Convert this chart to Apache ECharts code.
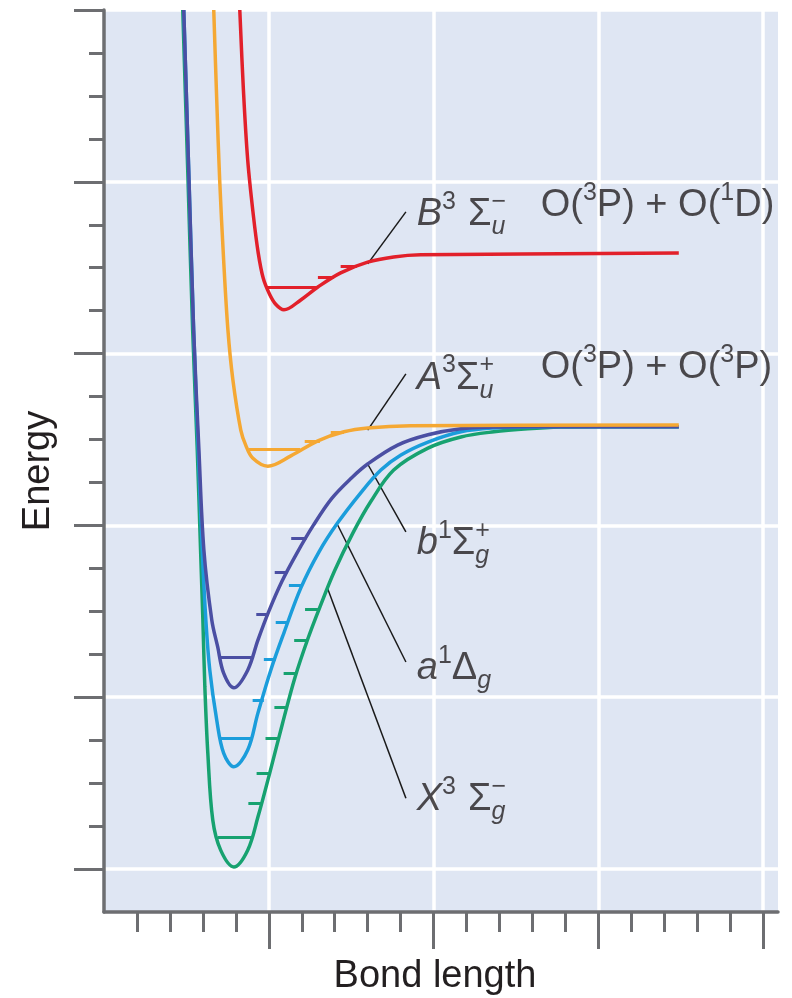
<!DOCTYPE html>
<html>
<head>
<meta charset="utf-8">
<script src="https://cdn.jsdelivr.net/npm/echarts@6.0.0/dist/echarts.min.js"></script>
<style>
  html, body { margin: 0; padding: 0; background: #fff; }
  #chart { width: 792px; height: 998px; }
</style>
</head>
<body>
<div id="chart"></div>
<script>
// potential energy curves of O2, [bond length, energy] in tick units
const curveX = [[2.39, 21.0], [2.54, 17.28], [2.69, 13.55], [2.83, 10.76], [2.93, 8.43], [3.00, 6.80], [3.06, 5.24], [3.15, 3.70], [3.30, 2.14], [3.54, 1.44], [3.94, 1.05], [4.36, 1.44], [4.67, 2.21], [5.03, 3.24], [5.42, 4.40], [5.79, 5.45], [6.18, 6.35], [6.55, 7.10], [7.00, 7.95], [7.55, 8.82], [8.09, 9.55], [8.79, 10.29], [9.83, 10.80], [10.83, 11.06], [11.83, 11.18], [12.86, 11.25], [13.86, 11.29], [15.08, 11.30], [17.44, 11.30]];
const curveA1 = [[2.42, 21.0], [2.57, 17.28], [2.72, 13.55], [2.86, 10.76], [2.98, 8.43], [3.09, 6.80], [3.21, 5.63], [3.42, 4.47], [3.63, 3.70], [3.94, 3.38], [4.36, 3.77], [4.67, 4.63], [5.06, 5.63], [5.46, 6.50], [5.97, 7.54], [6.52, 8.38], [7.09, 9.06], [7.79, 9.76], [8.40, 10.29], [9.01, 10.64], [9.83, 10.94], [10.83, 11.18], [11.83, 11.27], [12.86, 11.29], [13.86, 11.30], [17.44, 11.30]];
const curveB1 = [[2.42, 21.0], [2.57, 17.28], [2.72, 13.55], [2.88, 10.76], [3.03, 8.43], [3.27, 6.80], [3.45, 6.17], [3.63, 5.56], [3.94, 5.22], [4.36, 5.63], [4.67, 6.33], [5.00, 7.00], [5.40, 7.70], [5.85, 8.35], [6.35, 9.00], [6.90, 9.62], [7.50, 10.10], [8.00, 10.43], [8.91, 10.87], [9.83, 11.11], [10.83, 11.25], [11.83, 11.29], [12.86, 11.30], [17.44, 11.30]];
const curveA3 = [[3.33, 21.0], [3.42, 18.91], [3.51, 17.04], [3.63, 15.18], [3.76, 13.55], [3.91, 12.39], [4.15, 11.22], [4.30, 10.87], [4.51, 10.57], [4.97, 10.38], [5.67, 10.62], [6.49, 10.97], [7.28, 11.18], [8.00, 11.27], [9.31, 11.32], [17.44, 11.34]];
const curveB3 = [[4.12, 21.0], [4.23, 19.14], [4.36, 17.51], [4.53, 16.23], [4.68, 15.34], [4.83, 14.76], [5.02, 14.39], [5.21, 14.15], [5.46, 14.02], [5.97, 14.25], [6.49, 14.55], [7.18, 14.88], [8.00, 15.13], [8.79, 15.25], [9.61, 15.30], [17.44, 15.34]];

// vibrational levels: [energy, from, to]
const levelsX = [[1.75, 3.45, 4.46], [2.54, 4.38, 4.79], [3.24, 4.63, 5.03], [4.05, 4.90, 5.30], [4.77, 5.17, 5.55], [5.56, 5.45, 5.83], [6.33, 5.77, 6.17], [7.05, 6.10, 6.53]];
const levelsA1 = [[4.05, 3.53, 4.48], [4.94, 4.51, 4.85], [5.89, 4.85, 5.21], [6.75, 5.21, 5.58], [7.61, 5.61, 5.99]];
const levelsB1 = [[5.94, 3.52, 4.52], [6.94, 4.62, 4.99], [7.92, 5.18, 5.56], [8.71, 5.68, 6.14]];
const levelsA3 = [[10.78, 4.40, 5.95], [10.97, 6.09, 6.55], [11.18, 6.88, 7.28]];
const levelsB3 = [[14.55, 4.95, 6.45], [14.78, 6.49, 6.97], [15.04, 7.18, 7.67]];

// leader lines from curve to label
const leaders = [
  [[8.00, 15.09], [9.16, 16.30]],
  [[8.00, 11.22], [9.16, 12.53]],
  [[8.00, 10.43], [9.16, 8.85]],
  [[7.09, 9.01], [9.16, 5.82]],
  [[6.79, 7.52], [9.16, 2.65]]
];

// label anchors (left edge, middle) and rich text
const labelPoints = [[9.49, 16.23], [13.25, 16.44], [9.49, 12.43], [13.25, 12.67], [9.49, 8.57], [9.49, 5.66], [9.49, 2.61]];
const labelTexts = [
  '{it|B}{sup|3}{gap| }{rm|Σ}{sgn|−}{sub|u}',
  '{rm|O(}{sup|3}{rm|P) + O(}{sup|1}{rm|D)}',
  '{it|A}{sup|3}{rm|Σ}{sgn|+}{sub|u}',
  '{rm|O(}{sup|3}{rm|P) + O(}{sup|3}{rm|P)}',
  '{it|b}{sup|1}{rm|Σ}{sgn|+}{sub|g}',
  '{it|a}{sup|1}{rm|Δ}{sub|g}',
  '{it|X}{sup|3}{gap| }{rm|Σ}{sgn|−}{sub|g}'
];

// axis ticks
const xMinorTicks = [1, 2, 3, 4, 5, 6, 7, 8, 9, 10, 11, 12, 13, 14, 15, 16, 17, 18, 19, 20];
const xMajorTicks = [5, 10, 15, 20];
const yMinorTicks = [1, 2, 3, 4, 5, 6, 7, 8, 9, 10, 11, 12, 13, 14, 15, 16, 17, 18, 19, 20, 21];
const yMajorTicks = [1, 5, 9, 13, 17, 21];

const FONT = 'Liberation Sans';
const ink = '#231f20';
const grey = '#6d6e71';

const chart = echarts.init(document.getElementById('chart'));

function levelLines(levels) {
  return levels.map(l => [{ coord: [l[1], l[0]] }, { coord: [l[2], l[0]] }]);
}

function curve(name, data, color, levels) {
  return {
    name: name,
    type: 'line',
    data: data,
    smooth: 0.35,
    showSymbol: false,
    silent: true,
    lineStyle: { color: color, width: 3.5 },
    markLine: {
      silent: true,
      symbol: ['none', 'none'],
      label: { show: false },
      lineStyle: { color: color, width: 3, type: 'solid' },
      data: levelLines(levels)
    }
  };
}

const rich = {
  it: { fontFamily: FONT, fontSize: 38, fontStyle: 'italic', color: ink, lineHeight: 50 },
  rm: { fontFamily: FONT, fontSize: 38, color: ink, lineHeight: 50 },
  sup: { fontFamily: FONT, fontSize: 25, color: ink, lineHeight: 36, verticalAlign: 'top' },
  sgn: { fontFamily: FONT, fontSize: 25, color: ink, lineHeight: 26, verticalAlign: 'top', width: 0 },
  sub: { fontFamily: FONT, fontSize: 25, fontStyle: 'italic', color: ink, lineHeight: 30, verticalAlign: 'bottom' },
  gap: { fontSize: 10, width: 12 }
};

function baseAxis(extra) {
  return Object.assign({
    type: 'value',
    min: 0,
    axisLabel: { show: false },
    splitLine: { show: false },
    axisLine: { show: false, onZero: false }
  }, extra);
}

chart.setOption({
  animation: false,
  grid: {
    left: 104, right: 14, top: 10, bottom: 86,
    outerBoundsMode: 'none',
    show: true, backgroundColor: '#dfe6f3', borderWidth: 0
  },
  xAxis: [
    baseAxis({
      max: 20.45, position: 'bottom',
      axisLine: { show: true, onZero: false, lineStyle: { color: grey, width: 3.5 } },
      axisTick: { show: true, customValues: xMinorTicks, length: 20, lineStyle: { color: grey, width: 3 } }
    }),
    baseAxis({
      max: 20.45, position: 'bottom',
      axisTick: { show: true, customValues: xMajorTicks, length: 37, lineStyle: { color: grey, width: 3 } },
      splitLine: { show: true, lineStyle: { color: '#ffffff', width: 3.5 } },
      name: 'Bond length', nameLocation: 'middle', nameGap: 46,
      nameTextStyle: { fontFamily: FONT, fontSize: 38, color: ink, padding: [0, 12, 0, 0] }
    })
  ],
  yAxis: [
    baseAxis({
      max: 21, position: 'left',
      axisLine: { show: true, onZero: false, lineStyle: { color: grey, width: 3.5 } },
      axisTick: { show: true, customValues: yMinorTicks, length: 15, lineStyle: { color: grey, width: 3 } }
    }),
    baseAxis({
      max: 21, position: 'left',
      axisTick: { show: true, customValues: yMajorTicks, length: 30, lineStyle: { color: grey, width: 3 } },
      splitLine: { show: true, lineStyle: { color: '#ffffff', width: 3.5 } },
      name: 'Energy', nameLocation: 'middle', nameGap: 46,
      nameTextStyle: { fontFamily: FONT, fontSize: 38, color: ink, padding: [0, 20, 0, 0] }
    })
  ],
  series: [
    curve('X3Σg-', curveX, '#17a270', levelsX),
    curve('a1Δg', curveA1, '#1b9ddb', levelsA1),
    curve('b1Σg+', curveB1, '#4b4fa3', levelsB1),
    curve('A3Σu+', curveA3, '#f5a833', levelsA3),
    curve('B3Σu-', curveB3, '#e2202a', levelsB3),
    {
      type: 'lines',
      coordinateSystem: 'cartesian2d',
      silent: true,
      lineStyle: { color: '#1a1a1a', width: 1.5, opacity: 1 },
      data: leaders.map(c => ({ coords: c }))
    },
    {
      type: 'scatter',
      symbolSize: 0,
      silent: true,
      data: labelPoints.map((p, i) => ({
        value: p,
        label: {
          show: true,
          position: [0, 0],
          align: 'left',
          verticalAlign: 'middle',
          formatter: labelTexts[i],
          rich: rich
        }
      }))
    }
  ]
});
</script>
</body>
</html>
